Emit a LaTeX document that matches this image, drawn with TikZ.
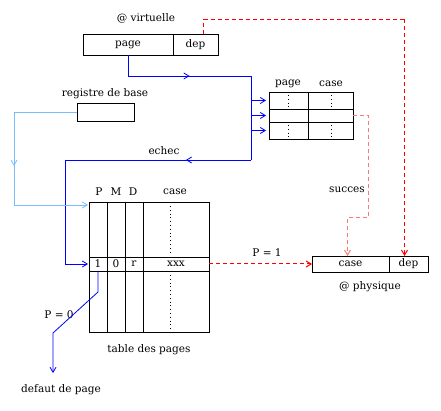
\documentclass[tikz,border=0pt]{standalone}
\usepackage{fontspec}
\setmainfont{DejaVu Serif}
\usetikzlibrary{arrows.meta,decorations.markings}
\begin{document}
\begin{tikzpicture}[x=1pt,y=-1pt,
  every node/.style={font=\fontsize{10.5}{12}\selectfont, inner sep=0pt, outer sep=0pt},
  cell/.style={draw, line width=0.7pt, anchor=center},
  lbl/.style={anchor=center},
  tip/.style={-{Straight Barb[length=5pt,width=6pt]}},
  bl/.style={color=blue, line width=0.8pt},
  lb/.style={color={rgb,255:red,120;green,190;blue,255}, line width=0.8pt},
  rd/.style={color=red, line width=1pt, dash pattern=on 4pt off 3pt},
  pk/.style={color={rgb,255:red,255;green,120;blue,120}, line width=1pt, dash pattern=on 4pt off 3pt},
  midtip/.style={postaction={decorate}, decoration={markings, mark=at position #1 with {\arrow{Straight Barb[length=5pt,width=6pt]}}}},
  dotv/.style={line width=0.8pt, dash pattern=on 0.8pt off 3pt}
]
\useasboundingbox (0,0) rectangle (441,411);

% virtual address
\node[cell, minimum width=90pt, minimum height=21pt] (vpage) at (128,44.5) {page};
\node[cell, minimum width=45pt, minimum height=21pt] (vdep) at (195.5,44.5) {dep};
\node[lbl] (vlab) at (146,18) {@ virtuelle};

% TLB
\node[cell, minimum width=39pt, minimum height=17pt] (t11) at (288.5,100.5) {};
\node[cell, minimum width=45pt, minimum height=17pt] (t12) at (330.5,100.5) {};
\node[cell, minimum width=39pt, minimum height=13pt] (t21) at (288.5,115.5) {};
\node[cell, minimum width=45pt, minimum height=13pt] (t22) at (330.5,115.5) {};
\node[cell, minimum width=39pt, minimum height=17pt] (t31) at (288.5,130.5) {};
\node[cell, minimum width=45pt, minimum height=17pt] (t32) at (330.5,130.5) {};
\node[lbl] (tpage) at (288,84) {page};
\node[lbl] (tcase) at (331,84) {case};
\draw[dotv] (288,95) -- (288,107);
\draw[dotv] (331,95) -- (331,107);
\draw[dotv] (288,125) -- (288,137);
\draw[dotv] (331,125) -- (331,137);

% registre de base
\node[cell, minimum width=57pt, minimum height=18pt] (reg) at (105.5,112) {};
\node[lbl] (reglab) at (105,94) {registre de base};

% page table
\node[cell, minimum width=120pt, minimum height=130pt] (pt) at (149,267) {};
\draw[line width=0.7pt] (107,202) -- (107,332) (125,202) -- (125,332) (143,202) -- (143,332);
\node[cell, minimum width=18pt, minimum height=14pt] (pP) at (98,264) {1};
\node[cell, minimum width=18pt, minimum height=14pt] (pM) at (116,264) {0};
\node[cell, minimum width=18pt, minimum height=14pt] (pD) at (134,264) {r};
\node[cell, minimum width=66pt, minimum height=14pt] (pC) at (176,264) {xxx};
\draw[dotv] (170,206) -- (170,254);
\draw[dotv] (170,275) -- (170,329);
\node[lbl] (hP) at (99,192) {P};
\node[lbl] (hM) at (116,192) {M};
\node[lbl] (hD) at (133,192) {D};
\node[lbl] (hC) at (175,192) {case};
\node[lbl] (ptlab) at (149,350) {table des pages};

% physical address
\node[cell, minimum width=77pt, minimum height=16pt] (pcase) at (350.5,264) {case};
\node[cell, minimum width=39pt, minimum height=16pt] (pdep) at (408.5,264) {dep};
\node[lbl] (plab) at (370,287) {@ physique};

% labels
\node[lbl] (echec) at (164,151) {echec};
\node[lbl] (succes) at (347,190) {succes};
\node[lbl] (p1) at (267,253) {P = 1};
\node[lbl] (p0) at (59,315) {P = 0};
\node[lbl] (defaut) at (61,390) {defaut de page};

% coordinates
\coordinate (r1) at (203.5,19.5);
\coordinate (r2) at (404.5,19.5);
\coordinate (b1) at (128,76);
\coordinate (b2) at (251,76);
\coordinate (b3) at (251,160);
\coordinate (b4) at (65,160);
\coordinate (l1) at (14,112);
\coordinate (l2) at (14,205);
\coordinate (s1) at (368.5,115.5);
\coordinate (s2) at (368.5,217.5);
\coordinate (s3) at (347.5,217.5);
\coordinate (f1) at (98,292);
\coordinate (f2) at (53,333);
\coordinate (f3) at (53,373);

% red dashed: dep -> dep
\draw[rd] (vdep.north -| r1) -- (r1);
\draw[rd] (r1) -- (r2);
\draw[rd, tip] (r2) -- (pdep.north -| r2);

% blue: page -> TLB
\draw[bl] (vpage.south) -- (b1);
\draw[bl, midtip=0.5] (b1) -- (b2);
\draw[bl] (b2) -- (b3);
\draw[bl, tip, shorten >=3pt] (b2 |- t11.west) -- (t11.west);
\draw[bl, tip, shorten >=3pt] (b2 |- t21.west) -- (t21.west);
\draw[bl, tip, shorten >=3pt] (b2 |- t31.west) -- (t31.west);
% echec
\draw[bl, midtip=0.35] (b3) -- (b4);
\draw[bl, tip, shorten >=1pt] (b4) |- (pP.west);

% registre de base
\draw[lb] (reg.west) -- (l1);
\draw[lb, midtip=0.58] (l1) -- (l2);
\draw[lb, tip, shorten >=1pt] (l2) -- (pt.west |- l2);

% succes
\draw[pk, tip] (t22.east) -- (s1) -- (s2) -- (s3) -- (pcase.north -| s3);

% P = 1
\draw[rd, tip] (pC.east) -- (pcase.west);

% P = 0
\draw[bl, tip] (pP.south) -- (f1) -- (f2) -- (f3);
\end{tikzpicture}
\end{document}
